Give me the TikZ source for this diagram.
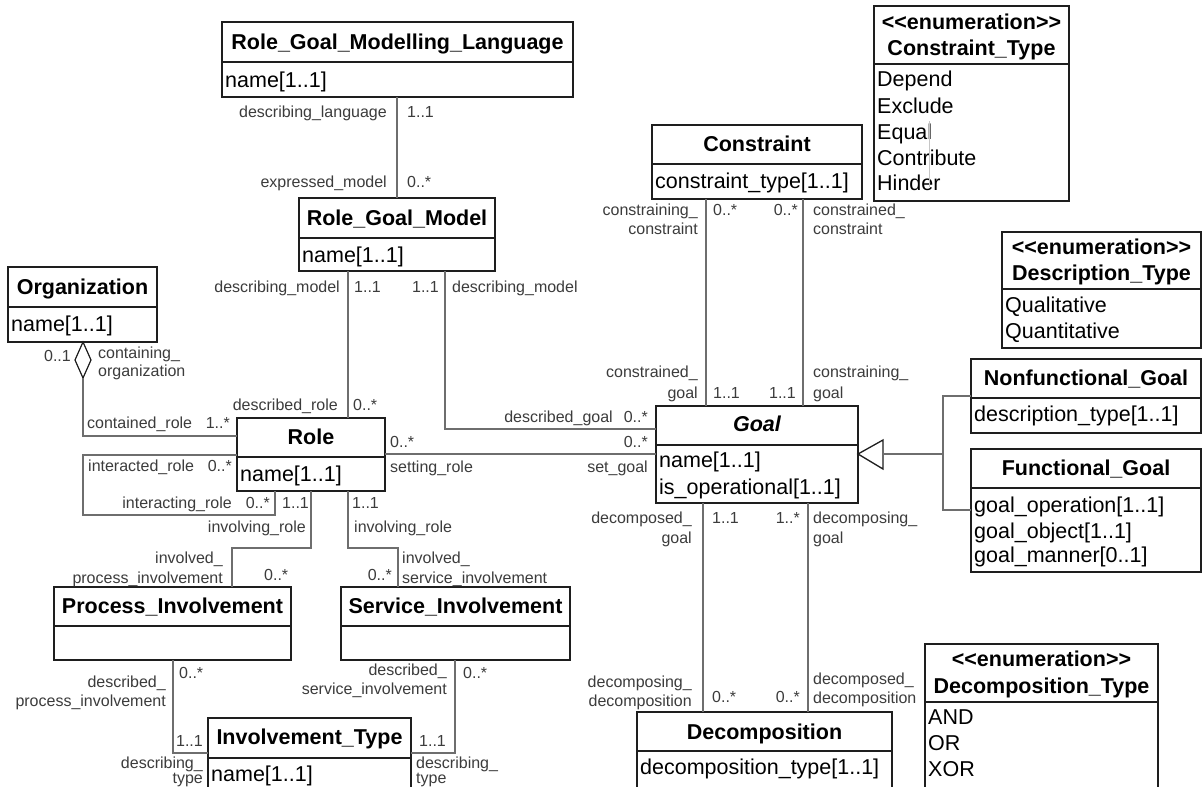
\documentclass[tikz,border=0pt]{standalone}
\usepackage{fontspec}
\setmainfont{Liberation Sans}
\definecolor{boxc}{HTML}{1E1E1E}
\definecolor{linec}{HTML}{6E6E6E}
\definecolor{lblc}{HTML}{3C3C3C}
\newcommand\ttlfont{\fontsize{21.5}{24}\selectfont\bfseries}
\newcommand\attfont{\fontsize{21.5}{24}\selectfont}
\newcommand\lblfont{\fontsize{16}{18}\selectfont}
\newcommand\enumst{<\kern0pt<enumeration>\kern0pt>}
\tikzset{
  cls/.style={draw=boxc, line width=1.6pt, inner sep=0pt, outer sep=0pt, anchor=north west},
  divl/.style={draw=boxc, line width=1.4pt},
  ttl/.style={font=\ttlfont, text=black, inner sep=0pt, anchor=base, yshift=-7.5pt},
  att/.style={font=\attfont, text=black, inner sep=0pt, anchor=base west, yshift=-7.5pt},
  lblL/.style={font=\lblfont, text=lblc, inner sep=0pt, anchor=base west, yshift=-5.5pt},
  lblR/.style={font=\lblfont, text=lblc, inner sep=0pt, anchor=base east, yshift=-5.5pt},
  conn/.style={draw=linec, line width=1.3pt},
}
% name, x1, y1, x2, y2, ydiv
\newcommand\umlcls[6]{%
  \node[cls, minimum width={#4pt-#2pt}, minimum height={#5pt-#3pt}] (#1) at (#2,#3) {};
  \draw[divl] (#2,#6) -- (#4,#6);}
\begin{document}
\begin{tikzpicture}[x=1pt,y=-1pt]
\clip (0,0) rectangle (1203,787);
\fill[white] (0,0) rectangle (1203,787);

% ---------- classes ----------
\umlcls{rgml}{222}{22}{573}{97}{62}
\node[ttl] (rgmlT) at (397.5,42) {Role\_Goal\_Modelling\_Language};
\node[att] (rgmlA) at (225,80) {name[1..1]};

\umlcls{rgm}{299}{198}{495}{271}{238}
\node[ttl] (rgmT) at (397,218) {Role\_Goal\_Model};
\node[att] (rgmA) at (302,255) {name[1..1]};

\umlcls{org}{8}{267}{157}{342}{307}
\node[ttl] (orgT) at (82.5,287) {Organization};
\node[att] (orgA) at (11,324) {name[1..1]};

\umlcls{role}{237}{418}{385}{491}{457}
\node[ttl] (roleT) at (311,437) {Role};
\node[att] (roleA) at (240,474) {name[1..1]};

\umlcls{pi}{54}{587}{291}{660}{626}
\node[ttl] (piT) at (172.5,606) {Process\_Involvement};

\umlcls{si}{341}{587}{570}{660}{626}
\node[ttl] (siT) at (455.5,606) {Service\_Involvement};

\umlcls{it}{208}{718}{411}{830}{758}
\node[ttl] (itT) at (309.5,737) {Involvement\_Type};
\node[att] (itA) at (211,774) {name[1..1]};

\umlcls{con}{652}{125}{862}{199}{164}
\node[ttl] (conT) at (757,144) {Constraint};
\node[att] (conA) at (655,181) {constraint\_type[1..1]};

\umlcls{ctype}{874}{6}{1069}{201}{64}
\node[ttl] (ctypeS) at (971.5,22) {\enumst};
\node[ttl] (ctypeT) at (971.5,48) {Constraint\_Type};
\node[att] (ct1) at (877,79) {Depend};
\node[att] (ct2) at (877,106) {Exclude};
\node[att] (ct3) at (877,132) {Equal};
\node[att] (ct4) at (877,158) {Contribute};
\node[att] (ct5) at (877,183) {Hinder};
\draw[draw=gray!45, line width=0.6pt] (929,121) -- (929,187);

\umlcls{dtype}{1002}{232}{1201}{348}{289}
\node[ttl] (dtypeS) at (1101.5,247) {\enumst};
\node[ttl] (dtypeT) at (1101.5,273) {Description\_Type};
\node[att] (dt1) at (1005,305) {Qualitative};
\node[att] (dt2) at (1005,331) {Quantitative};

\umlcls{ng}{971}{359}{1201}{433}{398}
\node[ttl] (ngT) at (1086,378) {Nonfunctional\_Goal};
\node[att] (ngA) at (974,414) {description\_type[1..1]};

\umlcls{fg}{971}{449}{1201}{572}{488}
\node[ttl] (fgT) at (1086,468) {Functional\_Goal};
\node[att] (fg1) at (974,505) {goal\_operation[1..1]};
\node[att] (fg2) at (974,531) {goal\_object[1..1]};
\node[att] (fg3) at (974,555) {goal\_manner[0..1]};

\umlcls{goal}{656}{406}{858}{503}{445}
\node[ttl] (goalT) at (757,424) {\itshape Goal};
\node[att] (goal1) at (659,460) {name[1..1]};
\node[att] (goal2) at (659,487) {is\_operational[1..1]};

\umlcls{dec}{637}{712}{892}{830}{751}
\node[ttl] (decT) at (764.5,732) {Decomposition};
\node[att] (decA) at (640,767) {decomposition\_type[1..1]};

\umlcls{xtype}{925}{644}{1158}{800}{702}
\node[ttl] (xtypeS) at (1041.5,659) {\enumst};
\node[ttl] (xtypeT) at (1041.5,686) {Decomposition\_Type};
\node[att] (xt1) at (928,717) {AND};
\node[att] (xt2) at (928,743) {OR};
\node[att] (xt3) at (928,769) {XOR};

% ---------- connectors ----------
\draw[conn] (rgm.north |- rgml.south) -- (rgm.north);
\draw[conn] (rgm.south -| 348,0) -- (role.north -| 348,0);
\coordinate (cgA) at (445,429);
\draw[conn] (rgm.south -| cgA) -- (cgA) -- (goal.west |- cgA);
% aggregation
\draw[conn, draw=boxc, line width=1.2pt, fill=white] (org.south -| 83,0) -- (91,360) -- (83,378) -- (75,360) -- cycle;
\coordinate (diab) at (83,378);
\coordinate (orgR) at (83,436);
\draw[conn] (diab) -- (orgR) -- (role.west |- orgR);
% self loop
\draw[conn] (role.west |- 0,455) -- (83,455) -- (83,515) -- (275,515) -- (role.south -| 275,0);
% role - goal
\draw[conn] (role.east |- 0,454) -- (goal.west |- 0,454);
% role - involvements
\draw[conn] (role.south -| 311,0) -- (311,548) -- (232,548) -- (pi.north -| 232,0);
\draw[conn] (role.south -| 348,0) -- (348,548) -- (398,548) -- (si.north -| 398,0);
\draw[conn] (pi.south -| 173,0) -- (173,753) -- (it.west |- 0,753);
\draw[conn] (si.south -| 455,0) -- (455,753) -- (it.east |- 0,753);
% constraint - goal
\draw[conn] (con.south -| 706,0) -- (goal.north -| 706,0);
\draw[conn] (con.south -| 803,0) -- (goal.north -| 803,0);
% goal - decomposition
\draw[conn] (goal.south -| 703,0) -- (dec.north -| 703,0);
\draw[conn] (goal.south -| 808,0) -- (dec.north -| 808,0);
% generalization
\draw[draw=boxc, line width=1.3pt] (goal.east |- 0,454) -- (883,440) -- (883,469) -- cycle;
\draw[conn] (883,454) -- (943,454);
\draw[conn] (ng.west |- 0,396) -- (943,396) -- (943,510) -- (fg.west |- 0,510);

% ---------- labels ----------
\node[lblR] (l1) at (387,112) {describing\_language};
\node[lblL] (l2) at (407,112) {1..1};
\node[lblR] (l3) at (387,182) {expressed\_model};
\node[lblL] (l4) at (407,182) {0..*};
\node[lblR] (l5) at (340,287) {describing\_model};
\node[lblL] (l6) at (354,287) {1..1};
\node[lblR] (l7) at (439,287) {1..1};
\node[lblL] (l8) at (452,287) {describing\_model};
\node[lblR] (l9) at (71,356) {0..1};
\node[lblL] (l10) at (98,353) {containing\_};
\node[lblL] (l11) at (98,371) {organization};
\node[lblR] (l12) at (338,405) {described\_role};
\node[lblL] (l13) at (353,405) {0..*};
\node[lblL] (l14) at (87,423) {contained\_role};
\node[lblR] (l15) at (230,423) {1..*};
\node[lblL] (l16) at (88,466) {interacted\_role};
\node[lblR] (l17) at (232,466) {0..*};
\node[lblR] (l18) at (232,503) {interacting\_role};
\node[lblR] (l19) at (270,503) {0..*};
\node[lblL] (l20) at (282,503) {1..1};
\node[lblR] (l21) at (306,527) {involving\_role};
\node[lblR] (l22) at (223,558) {involved\_};
\node[lblR] (l23) at (223,578) {process\_involvement};
\node[lblL] (l24) at (264,575) {0..*};
\node[lblL] (l25) at (352,503) {1..1};
\node[lblL] (l26) at (354,527) {involving\_role};
\node[lblR] (l27) at (392,575) {0..*};
\node[lblL] (l28) at (402,558) {involved\_};
\node[lblL] (l29) at (402,578) {service\_involvement};
\node[lblL] (l30) at (179,673) {0..*};
\node[lblR] (l31) at (166,682) {described\_};
\node[lblR] (l32) at (166,701) {process\_involvement};
\node[lblR] (l33) at (203,741) {1..1};
\node[lblR] (l34) at (203,763) {describing\_};
\node[lblR] (l35) at (203,778) {type};
\node[lblR] (l36) at (447,670) {described\_};
\node[lblR] (l37) at (447,689) {service\_involvement};
\node[lblL] (l38) at (463,673) {0..*};
\node[lblL] (l39) at (419,741) {1..1};
\node[lblL] (l40) at (416,763) {describing\_};
\node[lblL] (l41) at (416,778) {type};
\node[lblL] (l42) at (390,442) {0..*};
\node[lblL] (l43) at (390,467) {setting\_role};
\node[lblR] (l44) at (648,442) {0..*};
\node[lblR] (l45) at (648,467) {set\_goal};
\node[lblR] (l46) at (613,417) {described\_goal};
\node[lblR] (l47) at (648,417) {0..*};
\node[lblR] (l48) at (698,210) {constraining\_};
\node[lblR] (l49) at (698,229) {constraint};
\node[lblL] (l50) at (713,210) {0..*};
\node[lblR] (l51) at (798,210) {0..*};
\node[lblL] (l52) at (813,210) {constrained\_};
\node[lblL] (l53) at (813,229) {constraint};
\node[lblR] (l54) at (698,372) {constrained\_};
\node[lblR] (l55) at (698,393) {goal};
\node[lblL] (l56) at (713,393) {1..1};
\node[lblR] (l57) at (796,393) {1..1};
\node[lblL] (l58) at (813,372) {constraining\_};
\node[lblL] (l59) at (813,393) {goal};
\node[lblR] (l60) at (692,518) {decomposed\_};
\node[lblR] (l61) at (692,538) {goal};
\node[lblL] (l62) at (712,518) {1..1};
\node[lblR] (l63) at (800,518) {1..*};
\node[lblL] (l64) at (813,518) {decomposing\_};
\node[lblL] (l65) at (813,538) {goal};
\node[lblR] (l66) at (692,682) {decomposing\_};
\node[lblR] (l67) at (692,701) {decomposition};
\node[lblL] (l68) at (712,697) {0..*};
\node[lblR] (l69) at (800,697) {0..*};
\node[lblL] (l70) at (813,679) {decomposed\_};
\node[lblL] (l71) at (813,698) {decomposition};
\end{tikzpicture}
\end{document}
